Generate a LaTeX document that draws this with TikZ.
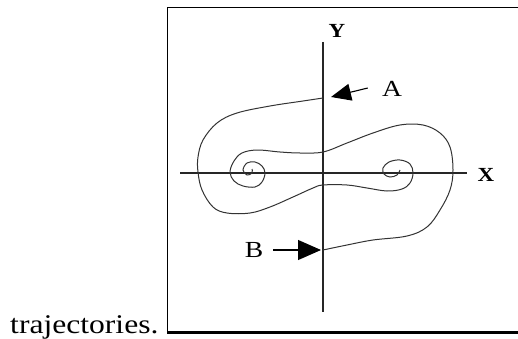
\documentclass[tikz,border=0pt]{standalone}
\usepackage{fontspec}
\setmainfont{Liberation Serif}
\usetikzlibrary{arrows.meta,positioning}

\begin{document}
\begin{tikzpicture}[x=1pt,y=-1pt,
    axis/.style={line width=1.4pt,black!85},
    traj/.style={line width=1pt,black!80},
    pin/.style={-{Triangle[length=20pt,width=17pt]},line width=1.1pt},
    bigpin/.style={-{Triangle[length=23pt,width=20pt]},line width=1.1pt},
    axlabel/.style={font=\bfseries\fontsize{20}{20}\selectfont,inner sep=0pt,xscale=1.15},
    ptlabel/.style={font=\fontsize{23}{23}\selectfont,inner sep=0pt,xscale=1.2}
  ]
  \useasboundingbox (0,0) rectangle (518,339);
  \clip (0,0) rectangle (518,339);
  % frame of the phase portrait
  \draw[line width=1.5pt] (530,7.5) -- (167.5,7.5) -- (167.5,332);
  \draw[line width=3pt] (167,332) -- (530,332);
  \node[anchor=base west,inner sep=0pt,xscale=1.17,font=\fontsize{27}{30}\selectfont] (cap) at (10,333) {trajectories.};
  % axes
  \coordinate (ytop) at (323,42);
  \coordinate (ybot) at (323,312);
  \coordinate (xleft) at (180,173);
  \coordinate (xright) at (467,173);
  \draw[axis] (ytop) -- (ybot);
  \draw[axis] (xleft) -- (xright);
  \node[axlabel] (ylbl) at (337,31) {Y};
  \node[axlabel] (xlbl) at (486,175) {X};
  % trajectory from A, ends in the right focus
  \draw[traj] plot[smooth,tension=0.6] coordinates {(323,98) (303,101) (270,106) (237,113) (217,123) (203,140) (198,157)
    (198,172) (202,190) (213,207) (227,213) (250,213) (270,207) (293,197) (313,188) (323,185) (347,185) (367,188)
    (387,191) (402,189) (410,183) (413,173) (410,164) (400,160) (389,162) (383,168) (384,174) (390,177) (397,175) (400,170)};
  % trajectory from B, ends in the left focus
  \draw[traj] plot[smooth,tension=0.6] coordinates {(323,250) (347,245) (373,240) (407,236) (427,227) (440,210) (450,190)
    (453,170) (450,147) (440,133) (423,125) (400,125) (373,133) (347,143) (323,152) (300,153) (280,152) (257,150)
    (242,153) (234,161) (230,172) (234,181) (243,186) (255,187) (262,182) (265,173) (262,166) (255,162) (247,163)
    (243,170) (247,175) (252,173) (252,169)};
  % starting points
  \node[ptlabel] (lblA) at (392,89) {A};
  \node[ptlabel] (lblB) at (254,250) {B};
  \coordinate (tipA) at (331,97);
  \coordinate (tipB) at (321,250);
  \draw[pin] ([xshift=-14pt,yshift=1pt]lblA.west) -- (tipA);
  \draw[bigpin] ([xshift=10pt]lblB.east) -- (tipB);
\end{tikzpicture}
\end{document}
